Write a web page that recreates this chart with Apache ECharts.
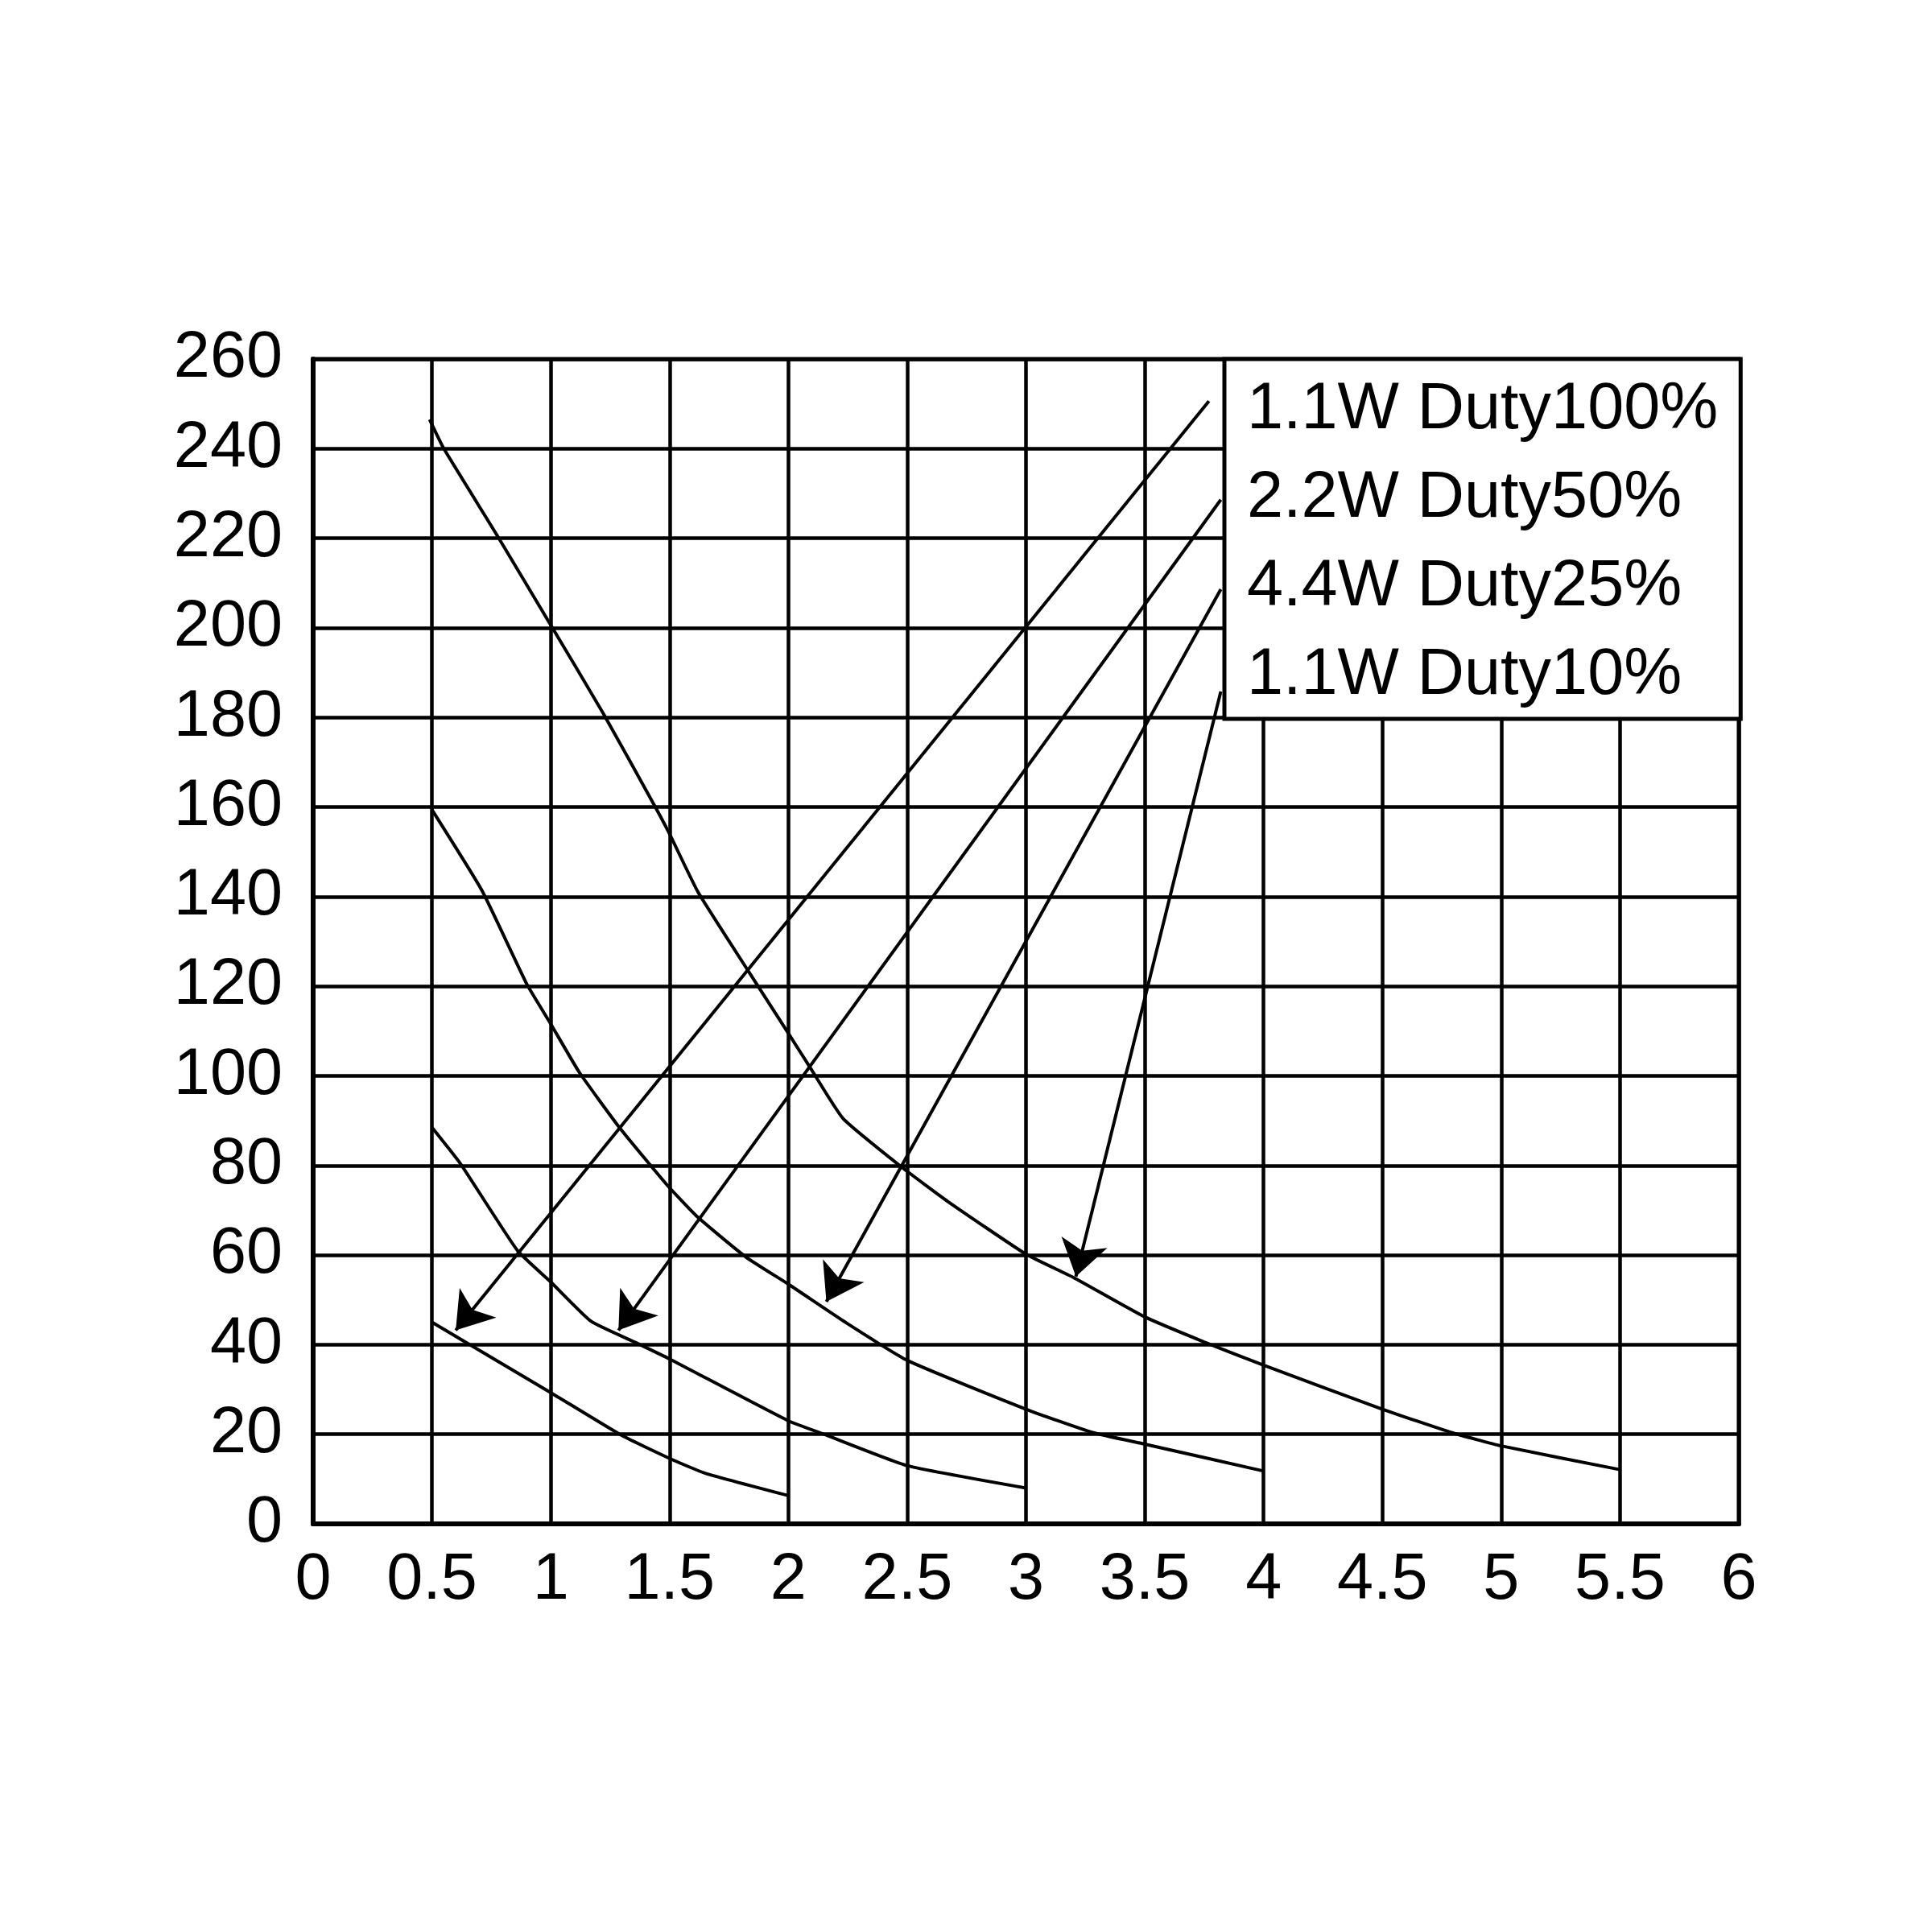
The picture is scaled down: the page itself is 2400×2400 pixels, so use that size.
<!DOCTYPE html>
<html>
<head>
<meta charset="utf-8">
<script src="https://cdn.jsdelivr.net/npm/echarts@6/dist/echarts.min.js"></script>
<style>
  html, body { margin: 0; padding: 0; background: #fff; }
  #main { width: 2400px; height: 2400px; }
</style>
</head>
<body>
<div id="main"></div>
<script>
// legend names, top to bottom
const names = ['1.1W Duty100%', '2.2W Duty50%', '4.4W Duty25%', '1.1W Duty10%'];

// curves: [x, y]
const duty100 = [[0.5, 45], [1, 29.3], [1.3, 19.7], [1.5, 14.6], [1.65, 11.3], [2, 6.3]];
const duty50 = [[0.5, 88.5], [0.62, 80.4], [0.86, 61], [1, 54], [1.17, 45.2], [1.36, 40.4],
  [1.5, 36.8], [2, 23], [2.15, 20], [2.5, 13], [3, 8]];
const duty25 = [[0.5, 159.4], [0.71, 141.4], [0.9, 120.4], [1, 111.6], [1.12, 100.8], [1.29, 88.4],
  [1.49, 75.6], [1.62, 68.4], [1.82, 59.6], [2, 53.5], [2.24, 45], [2.5, 36.5], [3, 25.6],
  [3.28, 20.4], [3.5, 17.8], [4, 11.8]];
const duty10 = [[0.49, 246.5], [0.55, 240], [0.77, 221], [1, 200.6], [1.22, 181], [1.44, 160],
  [1.5, 154], [1.62, 141], [1.83, 123.5], [2, 109.5], [2.09, 102], [2.23, 90.5], [2.48, 79.5],
  [2.67, 72], [3, 60.2], [3.2, 55], [3.5, 46.2], [3.75, 40.6], [4, 35.4], [4.5, 25.6],
  [4.79, 20.4], [5, 17.4], [5.5, 12.1]];

// arrows from legend to curves: [start, tip]
const arrows = [
  [[3.77, 250.6], [0.6, 43.2]],
  [[3.82, 228.6], [1.285, 43.2]],
  [[3.82, 208.6], [2.16, 49.6]],
  [[3.82, 185.8], [3.21, 55.2]]
];

const font = '"Liberation Sans", Arial, sans-serif';
const curves = [duty100, duty50, duty25, duty10];

const chart = echarts.init(document.getElementById('main'));
chart.setOption({
  animation: false,
  backgroundColor: '#fff',
  grid: {
    left: 389, right: 240, top: 446, bottom: 507,
    show: true, borderColor: '#000', borderWidth: 5, backgroundColor: 'transparent'
  },
  legend: {
    orient: 'vertical',
    left: 1521, top: 446,
    padding: [23, 28, 13, 22],
    itemWidth: 0, itemHeight: 0, itemGap: 29,
    selectedMode: false,
    backgroundColor: '#fff',
    borderColor: '#000',
    borderWidth: 5,
    textStyle: { fontSize: 81, fontFamily: font, color: '#000', lineHeight: 80 },
    data: names
  },
  xAxis: {
    type: 'value', min: 0, max: 6, interval: 0.5,
    axisLine: { lineStyle: { color: '#000', width: 6 } },
    axisTick: { show: false },
    axisLabel: { fontSize: 81, fontFamily: font, color: '#000', margin: 30 },
    splitLine: { show: true, lineStyle: { color: '#000', width: 4.5 } }
  },
  yAxis: {
    type: 'value', min: 0, max: 260, interval: 20,
    axisLine: { show: true, lineStyle: { color: '#000', width: 6 } },
    axisTick: { show: false },
    axisLabel: { fontSize: 81, fontFamily: font, color: '#000', margin: 38, padding: [16, 0, 0, 0] },
    splitLine: { show: true, lineStyle: { color: '#000', width: 4.5 } }
  },
  series: names.map((n, i) => ({
    name: n,
    type: 'line',
    data: curves[i],
    showSymbol: false,
    smooth: 0.15,
    lineStyle: { color: '#000', width: 4 },
    itemStyle: { color: '#000' }
  })).concat([{
    name: 'arrows',
    type: 'lines',
    coordinateSystem: 'cartesian2d',
    symbol: ['none', 'arrow'],
    symbolSize: [16, 44],
    lineStyle: { color: '#000', width: 4, opacity: 1 },
    data: arrows.map(a => ({ coords: a }))
  }])
});
</script>
</body>
</html>
